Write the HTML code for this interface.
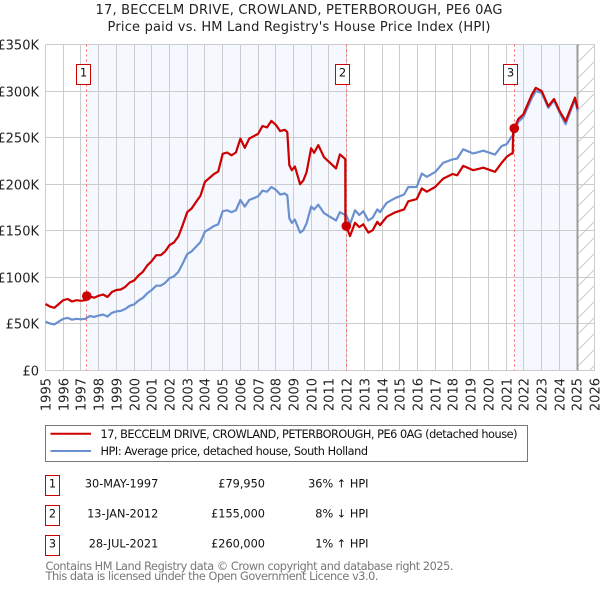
<!DOCTYPE html>
<html>
<head>
<meta charset="utf-8">
<style>
html,body{margin:0;padding:0;background:#fff;width:600px;height:590px;overflow:hidden}
svg{display:block;font-family:"DejaVu Sans","Liberation Sans",sans-serif}
</style>
</head>
<body>
<svg id="chart" width="600" height="590" viewBox="0 0 600 590" xmlns="http://www.w3.org/2000/svg">
<defs>
<pattern id="hatch" patternUnits="userSpaceOnUse" width="16" height="16">
<path d="M-2 2L2 -2M0 16L16 0M14 18L18 14" stroke="#ccc" stroke-width="1" fill="none"/>
</pattern>
</defs>
<text x="299" y="14" font-size="13" text-anchor="middle" textLength="407" fill="#222">17, BECCELM DRIVE, CROWLAND, PETERBOROUGH, PE6 0AG</text>
<text x="299" y="31" font-size="13" text-anchor="middle" textLength="383" fill="#222">Price paid vs. HM Land Registry's House Price Index (HPI)</text>
<g id="plot"></g>

<g>
<rect x="45.5" y="425.5" width="482" height="36" fill="#fff" stroke="#777" stroke-width="1"/>
<line x1="50.5" x2="91" y1="433.8" y2="433.8" stroke="#c00" stroke-width="2"/>
<text x="100.5" y="438" font-size="11.3" textLength="417" fill="#111">17, BECCELM DRIVE, CROWLAND, PETERBOROUGH, PE6 0AG (detached house)</text>
<line x1="50.5" x2="91" y1="451" y2="451" stroke="#6a90d0" stroke-width="2"/>
<text x="100.5" y="455" font-size="11.3" textLength="267.5" fill="#111">HPI: Average price, detached house, South Holland</text>
</g>

<g font-size="11.3" fill="#111">
<rect x="45.5" y="475.5" width="14" height="20" fill="#fff" stroke="#c00"/>
<text x="52.5" y="487.5" text-anchor="middle">1</text>
<text x="158.3" y="487.5" text-anchor="end">30-MAY-1997</text>
<text x="265" y="487.5" text-anchor="end">£79,950</text>
<text x="368.5" y="487.5" text-anchor="end">36% ↑ HPI</text>

<rect x="45.5" y="505.5" width="14" height="20" fill="#fff" stroke="#c00"/>
<text x="52.5" y="517.5" text-anchor="middle">2</text>
<text x="158.3" y="517.5" text-anchor="end">13-JAN-2012</text>
<text x="265" y="517.5" text-anchor="end">£155,000</text>
<text x="368.5" y="517.5" text-anchor="end">8% ↓ HPI</text>

<rect x="45.5" y="535.5" width="14" height="20" fill="#fff" stroke="#c00"/>
<text x="52.5" y="547.5" text-anchor="middle">3</text>
<text x="158.3" y="547.5" text-anchor="end">28-JUL-2021</text>
<text x="265" y="547.5" text-anchor="end">£260,000</text>
<text x="368.5" y="547.5" text-anchor="end">1% ↑ HPI</text>
</g>

<text x="45.5" y="570" font-size="11.3" fill="#777" textLength="408">Contains HM Land Registry data © Crown copyright and database right 2025.</text>
<text x="45.5" y="580" font-size="11.3" fill="#777" textLength="333">This data is licensed under the Open Government Licence v3.0.</text>
</svg>

<script>
var xTickYears = [1995,1996,1997,1998,1999,2000,2001,2002,2003,2004,2005,2006,2007,2008,2009,2010,2011,2012,2013,2014,2015,2016,2017,2018,2019,2020,2021,2022,2023,2024,2025,2026];
var yTickValues = [0,50,100,150,200,250,300,350];
var yTickLabels = ['£0','£50K','£100K','£150K','£200K','£250K','£300K','£350K'];
var dates = [1995,1995.25,1995.5,1995.75,1996,1996.25,1996.5,1996.75,1997,1997.25,1997.5,1997.75,1998,1998.25,1998.5,1998.75,1999,1999.25,1999.5,1999.75,2000,2000.25,2000.5,2000.75,2001,2001.25,2001.5,2001.75,2002,2002.25,2002.5,2002.75,2003,2003.25,2003.5,2003.75,2004,2004.25,2004.5,2004.75,2005,2005.25,2005.5,2005.75,2006,2006.25,2006.5,2006.75,2007,2007.25,2007.5,2007.75,2008,2008.25,2008.5,2008.65,2008.76,2008.9,2009.08,2009.37,2009.55,2009.74,2009.99,2010.16,2010.4,2010.72,2011.06,2011.4,2011.62,2011.92,2011.93,2011.98,2012.19,2012.47,2012.71,2012.94,2013.22,2013.47,2013.73,2013.88,2014.26,2014.73,2015.24,2015.48,2015.95,2016.24,2016.52,2016.99,2017.45,2017.98,2018.24,2018.58,2019.15,2019.71,2020.37,2020.75,2021.03,2021.31,2021.37,2021.4,2021.46,2021.69,2021.97,2022.44,2022.67,2023.01,2023.38,2023.7,2024.04,2024.36,2024.89,2025.04];
var hpiValues = [52.5,50.5,49.5,52.5,55.5,56.5,54.5,55.5,55,55.5,58.5,57.5,59,60,58,62,63.5,64,66,69.5,71,75,78,83,86.5,91,91,94,99,101,106,115,125,128,133,138,149,152,155,157,171,172,170,172,183,176,183,185,187,193,192,197,194,189,190,188,163.5,158.5,162,148,150.6,158,176,173,178,169,165,161,170,167,167,167,157,172,167,171,161,164,173,170,180,185,189,197,197,211.5,208,213,223,226.6,227.6,237.5,233,236,231.8,241,243,251,252,252.6,256,267,272,292,300,298,282,290,276,264.5,291,278.4];
var priceValues = [71.4,68.7,67.3,71.4,75.5,76.8,74.1,75.5,74.8,75.5,79.6,78.2,80.2,81.6,78.9,84.3,86.4,87,89.8,94.5,96.6,102,106,112.9,117.6,123.8,123.8,127.8,134.6,137.4,144,156.4,170,174,181,187.7,202.6,206.7,210.8,213.5,232.6,234,231,234,249,239,249,251.6,254,262.5,261,268,263.8,257,258.4,256,220.5,215,219,200,204,213,238.6,233.7,242,229,223,217,232,227,155,155,144.3,158.6,154,157,148,150.6,159.6,156,165,169.7,173,181.7,184,195.5,192,197,206,211,209.6,219.7,215,217.7,213.3,223,229.4,233,233,260,260,270,275,295.6,303.4,300,283.7,291.5,277.7,267.7,293,281];
var saleNumbers = ['1','2','3'];
var saleDates = [1997.33,2011.98,2021.46];
var salePrices = [79.95,155,260];
var shadeDates = [[1997.33,2011.98],[2021.46,2025.04]];
var dataEndDate = 2025.04;
var axisEndDate = 2026;

var NS = 'http://www.w3.org/2000/svg';
var plot = document.getElementById('plot');
var LEFT = 45.5, RIGHT = 594.7, TOP = 44.5, BOTTOM = 370.5;
function xScale(year){ return LEFT + (year - 1995) * (RIGHT - LEFT) / 31; }
function yScale(k){ return BOTTOM - k * (BOTTOM - TOP) / 350; }
function snap(v){ return Math.round(v - 0.5) + 0.5; }
function make(tag, attrs, text){
  var el = document.createElementNS(NS, tag);
  for (var k in attrs) el.setAttribute(k, attrs[k]);
  if (text !== undefined) el.textContent = text;
  plot.appendChild(el);
  return el;
}
function linePoints(values){
  return values.map(function(v, i){ return xScale(dates[i]).toFixed(1) + ',' + yScale(v).toFixed(1); }).join(' ');
}

shadeDates.forEach(function(s){
  var el = make('rect', {x: xScale(s[0]), y: TOP, width: xScale(s[1]) - xScale(s[0]), height: BOTTOM - TOP, fill: '#f5f8ff'});
  
  
});
var hatch = make('rect', {x: xScale(dataEndDate), y: TOP, width: xScale(axisEndDate) - xScale(dataEndDate), height: BOTTOM - TOP, fill: 'url(#hatch)'});



yTickValues.forEach(function(v, i){
  var y = snap(yScale(v));
  var g = make('line', {x1: LEFT, x2: RIGHT, y1: y, y2: y, stroke: '#ccc', 'stroke-width': 1});
  
  
  var t = make('text', {x: 39, y: y + 5, 'font-size': 13, 'text-anchor': 'end', fill: '#222'}, yTickLabels[i]);
  
  
});
xTickYears.forEach(function(yr){
  var x = snap(xScale(yr));
  var g = make('line', {x1: x, x2: x, y1: TOP, y2: BOTTOM, stroke: '#ccc', 'stroke-width': 1});
  
  
  var t = make('text', {x: 0, y: 0, 'font-size': 13, 'text-anchor': 'end', fill: '#222', transform: 'translate(' + (x + 5) + ',378) rotate(-90)'}, String(yr));
  
  
});

var endLine = make('line', {x1: xScale(dataEndDate), x2: xScale(dataEndDate), y1: TOP, y2: BOTTOM, stroke: '#999', 'stroke-width': 1.5});



saleDates.forEach(function(d){
  var x = snap(xScale(d));
  var el = make('line', {x1: x, x2: x, y1: TOP, y2: BOTTOM, stroke: '#f66', 'stroke-width': 1, 'stroke-dasharray': '2 3'});
  
  
});

var hpiLine = make('polyline', {points: linePoints(hpiValues), fill: 'none', stroke: '#6a90d0', 'stroke-width': 2.2, 'stroke-linejoin': 'round'});


var priceLine = make('polyline', {points: linePoints(priceValues), fill: 'none', stroke: '#c00', 'stroke-width': 2.2, 'stroke-linejoin': 'round'});



saleDates.forEach(function(d, i){
  var cx = xScale(d), cy = yScale(salePrices[i]);
  var m = make('circle', {cx: cx, cy: cy, r: 4.8, fill: '#c00'});
  
  
  var b = make('rect', {x: snap(cx - 10.4), y: 64.5, width: 14, height: 20, fill: '#fff', stroke: '#c00', 'stroke-width': 1});
  
  
  var t = make('text', {x: snap(cx - 10.4) + 7, y: 76.5, 'font-size': 11.5, 'text-anchor': 'middle', fill: '#111'}, saleNumbers[i]);
  
  
});
</script>
</body>
</html>
